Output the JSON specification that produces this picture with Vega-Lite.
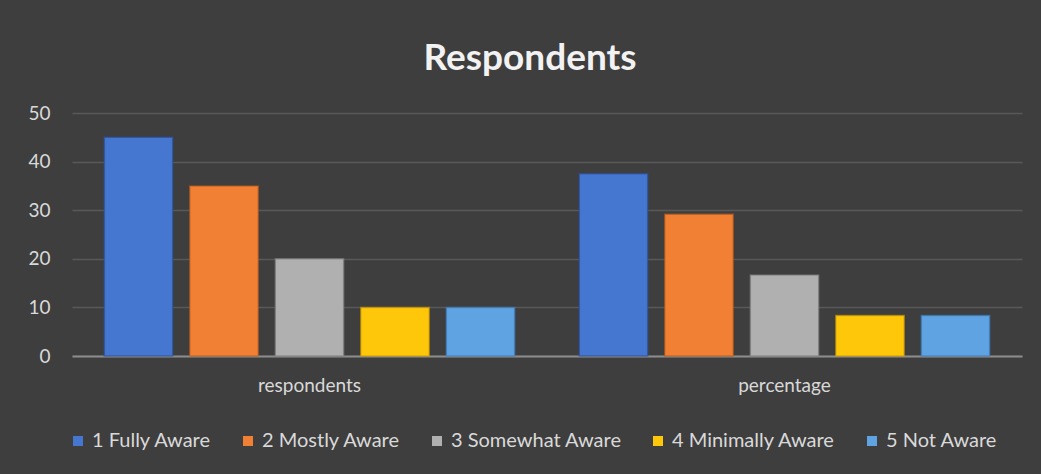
{
  "$schema": "https://vega.github.io/schema/vega-lite/v6.json",
  "width": 950,
  "height": 243,
  "autosize": "none",
  "padding": {"left": 72, "top": 113, "right": 19, "bottom": 118},
  "background": "#3e3e3e",
  "title": {
    "text": "Respondents",
    "font": "Lato",
    "fontSize": 37,
    "fontWeight": "bold",
    "color": "#f2f2f2",
    "anchor": "middle",
    "dx": -17,
    "offset": 26
  },
  "data": {
    "values": [
      {"group": "respondents", "level": "1 Fully Aware", "value": 45},
      {"group": "respondents", "level": "2 Mostly Aware", "value": 35},
      {"group": "respondents", "level": "3 Somewhat Aware", "value": 20},
      {"group": "respondents", "level": "4 Minimally Aware", "value": 10},
      {"group": "respondents", "level": "5 Not Aware", "value": 10},
      {"group": "percentage", "level": "1 Fully Aware", "value": 37.5},
      {"group": "percentage", "level": "2 Mostly Aware", "value": 29.17},
      {"group": "percentage", "level": "3 Somewhat Aware", "value": 16.67},
      {"group": "percentage", "level": "4 Minimally Aware", "value": 8.33},
      {"group": "percentage", "level": "5 Not Aware", "value": 8.33}
    ]
  },
  "mark": {"type": "bar", "strokeWidth": 1.5, "strokeOpacity": 0.6},
  "encoding": {
    "x": {
      "field": "group",
      "type": "nominal",
      "sort": ["respondents", "percentage"],
      "scale": {"paddingInner": 0.1, "paddingOuter": 0.05},
      "axis": {
        "title": null,
        "labelAngle": 0,
        "labelFont": "Lato",
        "labelFontSize": 19,
        "labelColor": "#d9d9d9",
        "labelPadding": 20,
        "ticks": false,
        "domainColor": "#8c8c8c",
        "domainWidth": 2
      }
    },
    "xOffset": {
      "field": "level",
      "type": "nominal",
      "scale": {"paddingInner": 0.2, "paddingOuter": 0.1}
    },
    "y": {
      "field": "value",
      "type": "quantitative",
      "scale": {"domain": [0, 50]},
      "axis": {
        "title": null,
        "values": [0, 10, 20, 30, 40, 50],
        "labelFont": "Lato",
        "labelFontSize": 19,
        "labelColor": "#d9d9d9",
        "labelPadding": 22,
        "ticks": false,
        "domain": false,
        "gridColor": "#595959",
        "gridWidth": 1.5
      }
    },
    "color": {
      "field": "level",
      "type": "nominal",
      "scale": {
        "domain": ["1 Fully Aware", "2 Mostly Aware", "3 Somewhat Aware", "4 Minimally Aware", "5 Not Aware"],
        "range": ["#4576d0", "#f28034", "#b0b0b0", "#ffc70a", "#5fa3e3"]
      },
      "legend": {
        "title": null,
        "orient": "none",
        "direction": "horizontal",
        "legendX": -4,
        "legendY": 318,
        "symbolType": "square",
        "symbolSize": 100,
        "symbolStrokeWidth": 0,
        "labelFont": "Lato",
        "labelFontSize": 20,
        "labelColor": "#d9d9d9",
        "labelLimit": 400,
        "labelOffset": 4,
        "columnPadding": 26
      }
    },
    "stroke": {
      "field": "level",
      "type": "nominal",
      "scale": {
        "domain": ["1 Fully Aware", "2 Mostly Aware", "3 Somewhat Aware", "4 Minimally Aware", "5 Not Aware"],
        "range": ["#2a4f9a", "#b85a1a", "#7a7a7a", "#c89400", "#3a78b8"]
      },
      "legend": null
    }
  },
  "config": {
    "view": {"stroke": null}
  }
}
